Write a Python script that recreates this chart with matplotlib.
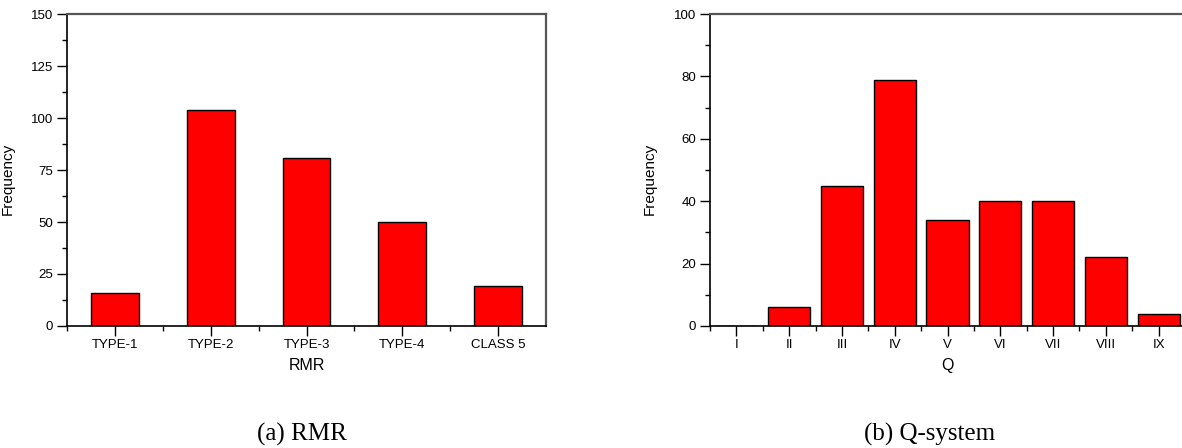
import matplotlib
matplotlib.use('Agg')
import matplotlib.pyplot as plt
from matplotlib.ticker import MultipleLocator

# RMR classes
rmr_labels = ['TYPE-1', 'TYPE-2', 'TYPE-3', 'TYPE-4', 'CLASS 5']
rmr_freq = [16, 104, 81, 50, 19]

# Q-system classes
q_labels = ['I', 'II', 'III', 'IV', 'V', 'VI', 'VII', 'VIII', 'IX']
q_freq = [0, 6, 45, 79, 34, 40, 40, 22, 4]

W, H = 1182, 448
plt.rcParams['font.family'] = ['Liberation Sans', 'DejaVu Sans']

fig = plt.figure(figsize=(W / 100, H / 100), dpi=100)


def px_axes(left, right, top, bottom):
    return fig.add_axes([left / W, 1 - bottom / H, (right - left) / W, (bottom - top) / H])


def style(ax, n, ymax, major, minor, xlabel):
    ax.set_xlim(0.5, n + 0.5)
    ax.set_ylim(0, ymax)
    ax.set_xticks(range(1, n + 1))
    ax.xaxis.set_minor_locator(plt.FixedLocator([i + 0.5 for i in range(n)]))
    ax.yaxis.set_major_locator(MultipleLocator(major))
    ax.yaxis.set_minor_locator(MultipleLocator(minor))
    ax.tick_params(which='major', length=7, width=1, labelsize=9.5, colors='black')
    ax.tick_params(which='minor', length=3.5, width=1)
    ax.tick_params(axis='both', direction='out', top=False, right=False)
    ax.tick_params(axis='x', pad=2.5)
    ax.tick_params(axis='y', pad=3)
    for s in ['left', 'bottom']:
        ax.spines[s].set_linewidth(1.2)
        ax.spines[s].set_color('black')
    for s in ['top', 'right']:
        ax.spines[s].set_linewidth(1.6)
        ax.spines[s].set_color('#555555')
    ax.set_ylabel('Frequency', fontsize=11)
    ax.set_xlabel(xlabel, fontsize=11.5)


ax1 = px_axes(67, 546, 14, 326)
ax1.bar(range(1, 6), rmr_freq, width=0.5, color='#ff0000', edgecolor='black', linewidth=1)
style(ax1, 5, 150, 25, 12.5, 'RMR')
ax1.set_xticklabels(rmr_labels)
ax1.yaxis.set_label_coords(-0.109, 0.47)
ax1.xaxis.set_label_coords(0.5, -0.103)

ax2 = px_axes(710, 1185, 14, 326)
ax2.bar(range(1, 10), q_freq, width=0.8, color='#ff0000', edgecolor='black', linewidth=1)
style(ax2, 9, 100, 20, 10, 'Q')
ax2.set_xticklabels(q_labels)
ax2.yaxis.set_label_coords(-0.112, 0.47)
ax2.xaxis.set_label_coords(0.5, -0.103)

fig.text(302 / W, 1 - 434 / H, '(a) RMR', fontsize=18, family='Liberation Serif',
         ha='center', va='center')
fig.text(930 / W, 1 - 434 / H, '(b) Q-system', fontsize=18, family='Liberation Serif',
         ha='center', va='center')

fig.savefig('out.png', dpi=100)
